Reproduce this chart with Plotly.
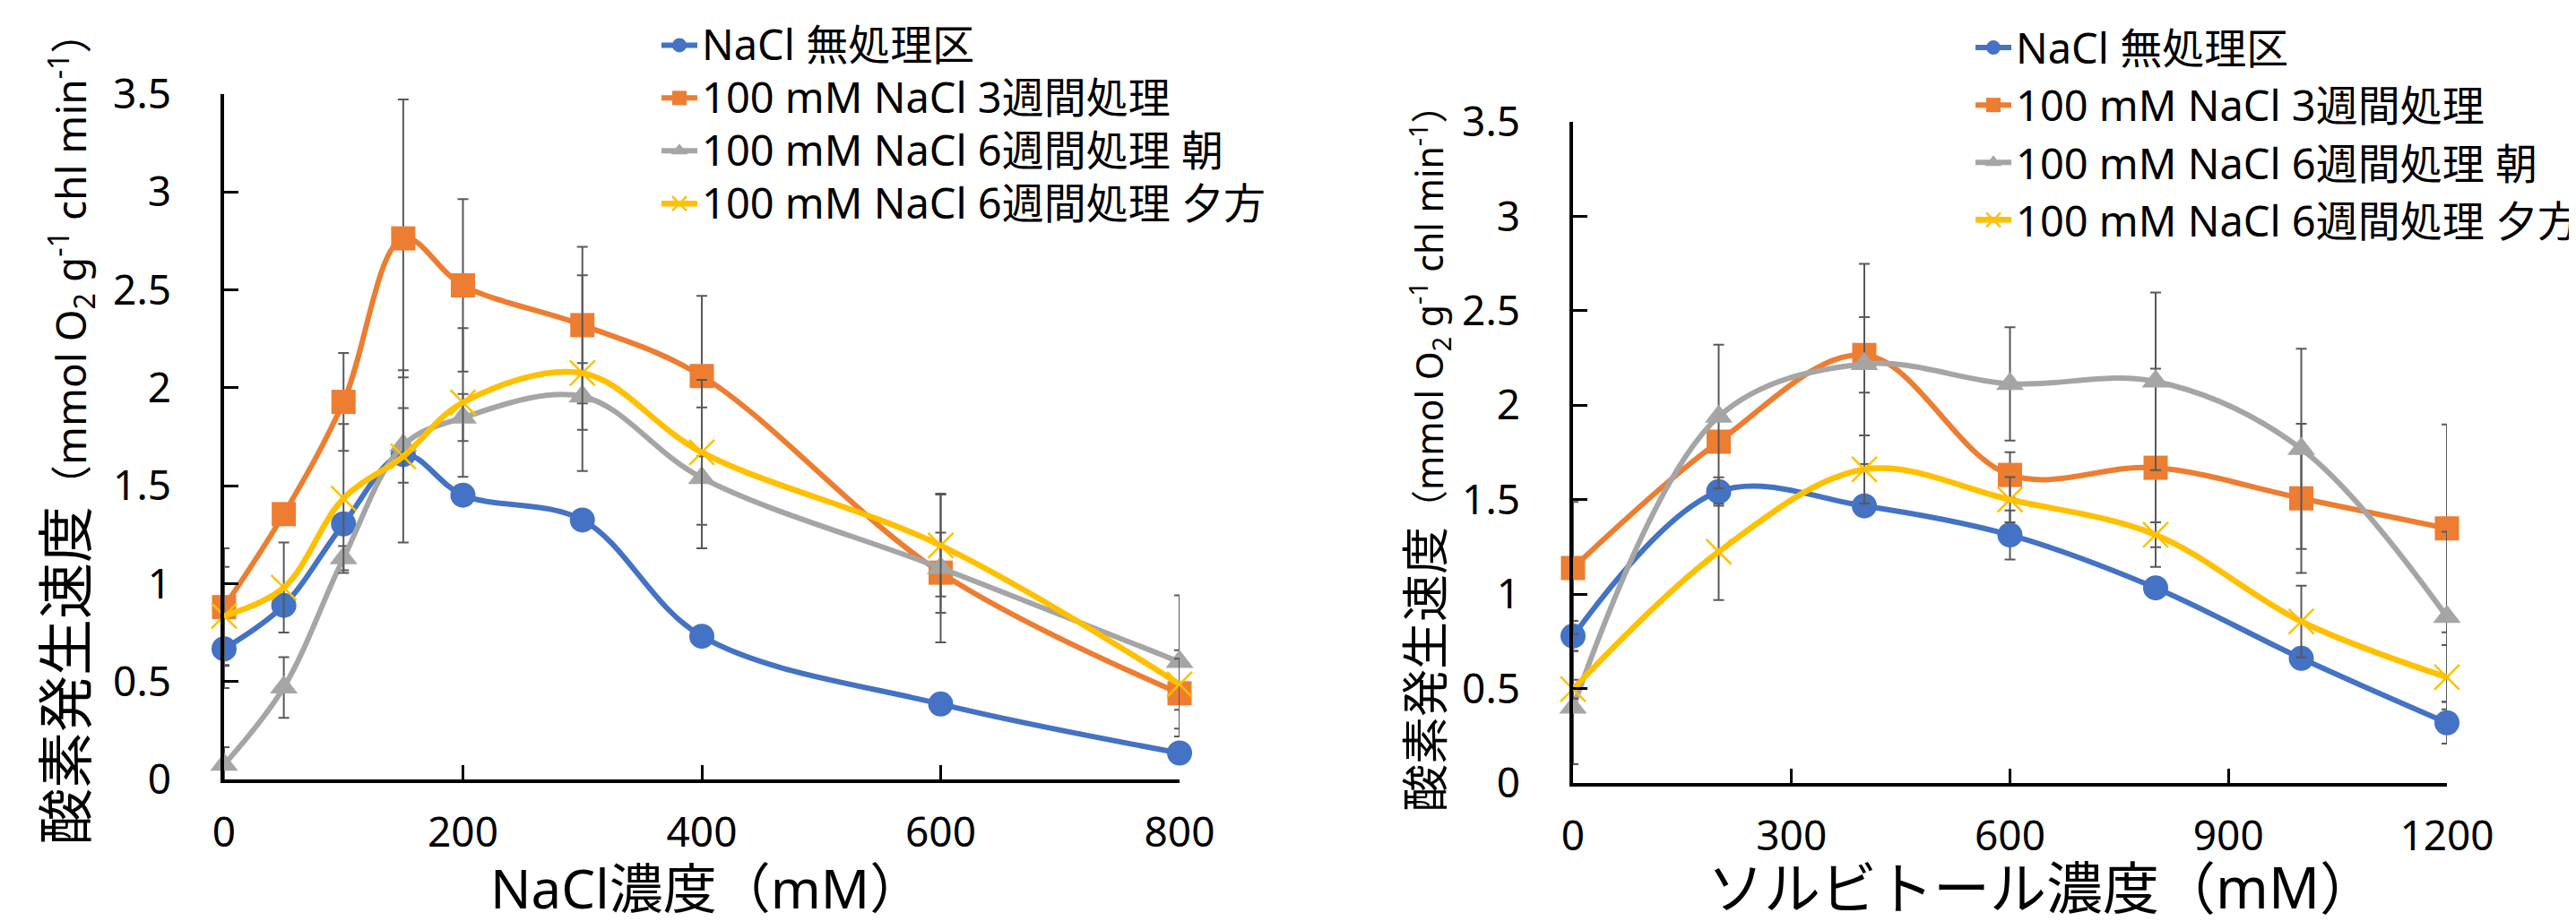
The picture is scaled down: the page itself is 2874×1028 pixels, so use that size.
import plotly.graph_objects as go

# ---------------- data ----------------
series_names = ["NaCl 無処理区", "100 mM NaCl 3週間処理",
                "100 mM NaCl 6週間処理 朝", "100 mM NaCl 6週間処理 夕方"]

nacl_x = [0, 50, 100, 150, 200, 300, 400, 600, 800]
nacl_ctrl = [0.667, 0.889, 1.305, 1.659, 1.452, 1.325, 0.731, 0.385, 0.135]
nacl_ctrl_err = [0.2, 0.04, 0.03, 0.03, 0.03, 0.03, 0.03, 0.03, 0.03]
nacl_3w = [0.880, 1.355, 1.928, 2.763, 2.523, 2.32, 2.06, 1.056, 0.44]
nacl_3w_err = [0.3, 0.05, 0.25, 0.71, 0.44, 0.40, 0.41, 0.205, 0.22]
nacl_6w_am = [0.075, 0.47, 1.13, 1.706, 1.848, 1.956, 1.54, 1.08, 0.60]
nacl_6w_am_err = [0.09, 0.155, 0.062, 0.19, 0.12, 0.17, 0.36, 0.38, 0.34]
nacl_6w_pm = [0.835, 0.98, 1.435, 1.65, 1.925, 2.075, 1.67, 1.195, 0.486]
nacl_6w_pm_err = [0.25, 0.23, 0.38, 0.44, 0.38, 0.50, 0.37, 0.26, 0.13]

sorb_x = [0, 200, 400, 600, 800, 1000, 1200]
sorb_ctrl = [0.778, 1.543, 1.467, 1.313, 1.033, 0.66, 0.319]
sorb_ctrl_err = [0.08, 0.075, 0.04, 0.13, 0.05, 0.05, 0.11]
sorb_3w = [1.138, 1.807, 2.266, 1.631, 1.669, 1.507, 1.348]
sorb_3w_err = [0.35, 0.05, 0.2, 0.12, 0.525, 0.395, 0.55]
sorb_6w_am = [0.40, 1.94, 2.218, 2.113, 2.126, 1.769, 0.88]
sorb_6w_am_err = [0.3, 0.38, 0.53, 0.3, 0.47, 0.53, 0.45]
sorb_6w_pm = [0.497, 1.224, 1.66, 1.50, 1.314, 0.855, 0.56]
sorb_6w_pm_err = [0.05, 0.255, 0.18, 0.12, 0.066, 0.19, 0.17]

nacl_ticks = [0, 200, 400, 600, 800]
sorb_ticks = [0, 300, 600, 900, 1200]
y_ticks = [0, 0.5, 1, 1.5, 2, 2.5, 3, 3.5]

# ---------------- style ----------------
colors = ["#4472C4", "#ED7D31", "#A5A5A5", "#FFC000"]
symbols = ["circle", "square", "triangle-up", "x-thin"]
sizes = [28, 27, 27, 28]
widths = [6, 6, 6, 6.5]
FONT = "Noto Sans, Noto Sans CJK JP, sans-serif"
ERR_COLOR = "#595959"
LEG_TEXT = '<span style="font-size:47px">%s</span>'

fig = go.Figure()

left_sets = [(nacl_ctrl, nacl_ctrl_err), (nacl_3w, nacl_3w_err),
             (nacl_6w_am, nacl_6w_am_err), (nacl_6w_pm, nacl_6w_pm_err)]
right_sets = [(sorb_ctrl, sorb_ctrl_err), (sorb_3w, sorb_3w_err),
              (sorb_6w_am, sorb_6w_am_err), (sorb_6w_pm, sorb_6w_pm_err)]


def marker_for(i):
    if symbols[i] == "x-thin":
        return dict(symbol="x-thin", size=sizes[i], color=colors[i],
                    line=dict(color=colors[i], width=2.5))
    return dict(symbol=symbols[i], size=sizes[i], color=colors[i],
                line=dict(width=0))


for i, (vals, errs) in enumerate(left_sets):
    fig.add_trace(go.Scatter(
        x=nacl_x, y=vals, name=LEG_TEXT % series_names[i], mode="lines+markers",
        line=dict(color=colors[i], width=widths[i], shape="spline", smoothing=1.0),
        marker=marker_for(i),
        error_y=dict(type="data", array=errs, visible=True, color=ERR_COLOR,
                     thickness=2, width=6),
        cliponaxis=False, xaxis="x", yaxis="y", legend="legend"))

for i, (vals, errs) in enumerate(right_sets):
    fig.add_trace(go.Scatter(
        x=sorb_x, y=vals, name=LEG_TEXT % series_names[i], mode="lines+markers",
        line=dict(color=colors[i], width=widths[i], shape="spline", smoothing=1.0),
        marker=marker_for(i),
        error_y=dict(type="data", array=errs, visible=True, color=ERR_COLOR,
                     thickness=2, width=6),
        cliponaxis=False, xaxis="x2", yaxis="y2", legend="legend2",
        legendgroup="r%d" % i))

W, H = 2874, 1028

axis_common = dict(showline=True, linecolor="black", linewidth=3.5,
                   ticks="inside", ticklen=16, tickwidth=3, tickcolor="black",
                   showgrid=False, zeroline=False,
                   tickfont=dict(family=FONT, size=46, color="black"))

fig.update_layout(
    width=W, height=H,
    margin=dict(l=0, r=0, t=0, b=0, autoexpand=False),
    paper_bgcolor="white", plot_bgcolor="white",
    font=dict(family=FONT, color="black"),
    xaxis=dict(domain=[242 / W, 1308 / W], range=[0, 800], tickvals=nacl_ticks,
               anchor="y", ticklabelstandoff=16, **axis_common),
    yaxis=dict(domain=[1 - 862 / H, 1 - 97 / H], range=[0, 3.5], tickvals=y_ticks,
               anchor="x", ticklabelstandoff=46, **axis_common),
    xaxis2=dict(domain=[1747 / W, 2722 / W], range=[0, 1200], tickvals=sorb_ticks,
                anchor="y2", ticklabelstandoff=16, **axis_common),
    yaxis2=dict(domain=[1 - 866 / H, 1 - 128 / H], range=[0, 3.5], tickvals=y_ticks,
                anchor="x2", ticklabelstandoff=46, **axis_common),
    legend=dict(x=725 / W, y=1 - 8 / H, xanchor="left", yanchor="top",
                font=dict(family=FONT, size=43, color="black"),
                bgcolor="rgba(0,0,0,0)", itemsizing="trace", itemwidth=40,
                tracegroupgap=0),
    legend2=dict(x=2191 / W, y=1 - 8 / H, xanchor="left", yanchor="top",
                 font=dict(family=FONT, size=47, color="black"),
                 bgcolor="rgba(0,0,0,0)", itemsizing="trace", itemwidth=40,
                 tracegroupgap=0),
    annotations=[
        dict(text="NaCl濃度（mM）", x=781 / W, y=1 - 983 / H, xref="paper", yref="paper",
             xanchor="center", yanchor="middle", showarrow=False,
             font=dict(family=FONT, size=60, color="black")),
        dict(text="ソルビトール濃度（mM）", x=2270 / W, y=1 - 981 / H, xref="paper",
             yref="paper", xanchor="center", yanchor="middle", showarrow=False,
             font=dict(family=FONT, size=63, color="black")),
        dict(text='<span style="font-size:63px">酸素発生速度</span>（mmol O<sub>2</sub> g<sup>-1</sup> chl min<sup>-1</sup>）',
             x=64 / W, y=1 - 471 / H, xref="paper", yref="paper", textangle=-90,
             xanchor="center", yanchor="middle", showarrow=False,
             font=dict(family=FONT, size=46, color="black")),
        dict(text='<span style="font-size:53px">酸素発生速度</span>（mmol O<sub>2</sub> g<sup>-1</sup> chl min<sup>-1</sup>）',
             x=1582 / W, y=1 - 493 / H, xref="paper", yref="paper", textangle=-90,
             xanchor="center", yanchor="middle", showarrow=False,
             font=dict(family=FONT, size=41, color="black")),
    ],
)

fig.write_html("out.html")
